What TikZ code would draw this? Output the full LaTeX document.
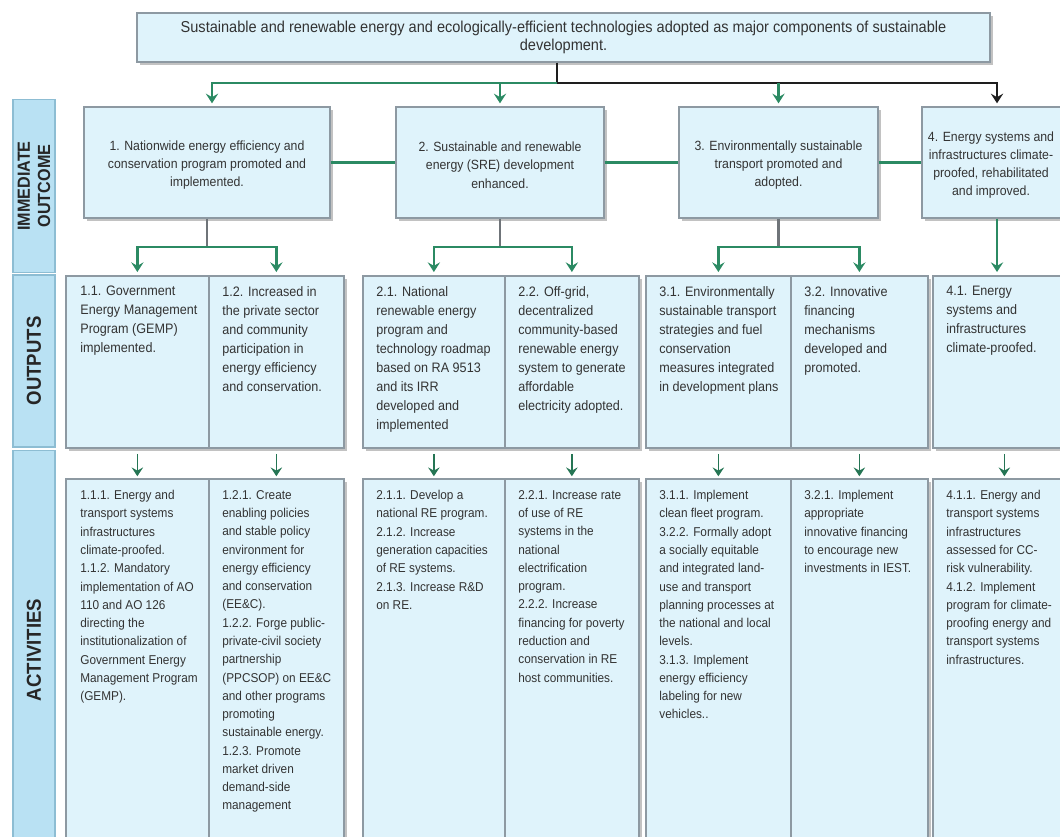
\documentclass[tikz,border=0pt]{standalone}
\usepackage{fontspec}
\newfontfamily\diagfont{Liberation Sans}[FakeStretch=0.92]
\usepackage{tikz}
\usetikzlibrary{arrows.meta,positioning,shadows}
\definecolor{cBox}{HTML}{DFF3FB}
\definecolor{cFrame}{HTML}{8D99A2}
\definecolor{cBand}{HTML}{B9E1F3}
\definecolor{cBandEdge}{HTML}{8DBDD3}
\definecolor{cFlow}{HTML}{2B8A63}
\definecolor{cStem}{HTML}{6F7479}
\definecolor{cTrunk}{HTML}{1E1E1E}
\definecolor{cInk}{HTML}{333333}
\tikzset{
  boxshadow/.style={drop shadow={shadow xshift=1.6pt, shadow yshift=-1.6pt, fill=black!40, opacity=.6}},
  goalbox/.style ={draw=cFrame, fill=cBox, line width=0.8pt, boxshadow, inner sep=0pt, align=center,
                   font=\diagfont\fontsize{9}{9.8}\selectfont},
  outcome/.style ={draw=cFrame, fill=cBox, line width=0.8pt, boxshadow, inner sep=0pt, minimum height=2.22cm},
  cell/.style    ={draw=cFrame, fill=cBox, line width=1pt, boxshadow, inner sep=0pt, anchor=north west},
  outtxt/.style  ={inner sep=0pt, align=center, font=\diagfont\fontsize{7.6}{10.4}\selectfont},
  celltxt/.style ={inner sep=0pt, align=left, font=\diagfont\fontsize{7.8}{10.8}\selectfont},
  acttxt/.style  ={inner sep=0pt, align=left, font=\diagfont\fontsize{7.3}{10.4}\selectfont},
  band/.style    ={rotate=90, fill=cBand, draw=cBandEdge, line width=0.6pt, minimum height=0.84cm,
                   inner sep=0pt, align=center, text=black!85,
                   font=\diagfont\bfseries\fontsize{11.5}{13}\selectfont},
  flow/.style ={draw=cFlow, line width=1.3pt, -{Stealth[length=5.5pt,width=7pt,inset=2pt]}, shorten >=1.7pt},
  link/.style ={draw=cFlow, line width=1.3pt},
  stem/.style ={draw=cStem, line width=1.6pt},
  trunk/.style={draw=cTrunk, line width=1.1pt},
  drop/.style ={draw=cFlow!85!black, line width=0.9pt, -{Stealth[length=5pt,width=6.5pt,inset=1.8pt]},
                shorten <=3pt, shorten >=1pt},
}

\begin{document}
\begin{tikzpicture}[x=0.02cm, y=-0.02cm, text=cInk, font=\diagfont]
  \useasboundingbox (0,0) rectangle (1060,837);
  \clip (0,0) rectangle (1060,837);

  % row labels
  \node[band, minimum width=3.46cm, font=\diagfont\bfseries\fontsize{10}{11.5}\selectfont] (b-out) at (34,186) {IMMEDIATE\\OUTCOME};
  \node[band, minimum width=3.44cm] (b-put)  at (34,361) {OUTPUTS};
  \node[band, minimum width=8.00cm] (b-act)  at (34,650) {ACTIVITIES};

  % goal
  \node[goalbox, minimum width=17.06cm, minimum height=0.98cm] (goal) at (563.5,37.5)
    {Sustainable and renewable energy and ecologically-efficient technologies adopted as major components of sustainable\\development.};

  % immediate outcomes
  \node[outcome, minimum width=4.92cm] (o1) at (207,162.5) {};
  \node[outcome, minimum width=4.16cm] (o2) at (500,162.5) {};
  \node[outcome, minimum width=3.98cm] (o3) at (778.5,162.5) {};
  \node[outcome, minimum width=3.00cm] (o4) at (997,162.5) {};
  \node[outtxt] (t-o1) at ([yshift=-0.05cm]o1) {1. Nationwide energy efficiency and\\conservation program promoted and\\implemented.};
  \node[outtxt] (t-o2) at ([yshift=-0.05cm]o2) {2. Sustainable and renewable\\energy (SRE) development\\enhanced.};
  \node[outtxt] (t-o3) at ([yshift=-0.05cm]o3) {3. Environmentally sustainable\\transport promoted and\\adopted.};
  \node[outtxt] (t-o4) at ([xshift=-0.12cm,yshift=-0.05cm]o4) {4. Energy systems and\\infrastructures climate-\\proofed, rehabilitated\\and improved.};

  % outputs
  \node[cell, minimum width=2.86cm, minimum height=3.44cm] (p11) at (65,275) {};
  \node[cell, minimum width=2.70cm, minimum height=3.44cm] (p12) at (208,275) {};
  \node[cell, minimum width=2.84cm, minimum height=3.44cm] (p21) at (362,275) {};
  \node[cell, minimum width=2.68cm, minimum height=3.44cm] (p22) at (504,275) {};
  \node[cell, minimum width=2.90cm, minimum height=3.44cm] (p31) at (645,275) {};
  \node[cell, minimum width=2.74cm, minimum height=3.44cm] (p32) at (790,275) {};
  \node[cell, minimum width=2.86cm, minimum height=3.44cm] (p41) at (932,275) {};
  \node[celltxt, below right=0.22cm and 0.3cm of p11.north west] (t-p11) {1.1. Government\\Energy Management\\Program (GEMP)\\implemented.};
  \node[celltxt, below right=0.22cm and 0.28cm of p12.north west] (t-p12) {1.2. Increased in\\the private sector\\and community\\participation in\\energy efficiency\\and conservation.};
  \node[celltxt, below right=0.22cm and 0.28cm of p21.north west] (t-p21) {2.1. National\\renewable energy\\program and\\technology roadmap\\based on RA 9513\\and its IRR\\developed and\\implemented};
  \node[celltxt, below right=0.22cm and 0.28cm of p22.north west] (t-p22) {2.2. Off-grid,\\decentralized\\community-based\\renewable energy\\system to generate\\affordable\\electricity adopted.};
  \node[celltxt, below right=0.22cm and 0.28cm of p31.north west] (t-p31) {3.1. Environmentally\\sustainable transport\\strategies and fuel\\conservation\\measures integrated\\in development plans};
  \node[celltxt, below right=0.22cm and 0.28cm of p32.north west] (t-p32) {3.2. Innovative\\financing\\mechanisms\\developed and\\promoted.};
  \node[celltxt, below right=0.22cm and 0.28cm of p41.north west] (t-p41) {4.1. Energy\\systems and\\infrastructures\\climate-proofed.};

  % activities
  \node[cell, minimum width=2.86cm, minimum height=7.5cm] (a11) at (65,478) {};
  \node[cell, minimum width=2.70cm, minimum height=7.5cm] (a12) at (208,478) {};
  \node[cell, minimum width=2.84cm, minimum height=7.5cm] (a21) at (362,478) {};
  \node[cell, minimum width=2.68cm, minimum height=7.5cm] (a22) at (504,478) {};
  \node[cell, minimum width=2.90cm, minimum height=7.5cm] (a31) at (645,478) {};
  \node[cell, minimum width=2.74cm, minimum height=7.5cm] (a32) at (790,478) {};
  \node[cell, minimum width=2.86cm, minimum height=7.5cm] (a41) at (932,478) {};
  \node[acttxt, below right=0.24cm and 0.3cm of a11.north west] (t-a11) {1.1.1. Energy and\\transport systems\\infrastructures\\climate-proofed.\\1.1.2. Mandatory\\implementation of AO\\110 and AO 126\\directing the\\institutionalization of\\Government Energy\\Management Program\\(GEMP).};
  \node[acttxt, below right=0.24cm and 0.28cm of a12.north west] (t-a12) {1.2.1. Create\\enabling policies\\and stable policy\\environment for\\energy efficiency\\and conservation\\(EE\&C).\\1.2.2. Forge public-\\private-civil society\\partnership\\(PPCSOP) on EE\&C\\and other programs\\promoting\\sustainable energy.\\1.2.3. Promote\\market driven\\demand-side\\management};
  \node[acttxt, below right=0.24cm and 0.28cm of a21.north west] (t-a21) {2.1.1. Develop a\\national RE program.\\2.1.2. Increase\\generation capacities\\of RE systems.\\2.1.3. Increase R\&D\\on RE.};
  \node[acttxt, below right=0.24cm and 0.28cm of a22.north west] (t-a22) {2.2.1. Increase rate\\of use of RE\\systems in the\\national\\electrification\\program.\\2.2.2. Increase\\financing for poverty\\reduction and\\conservation in RE\\host communities.};
  \node[acttxt, below right=0.24cm and 0.28cm of a31.north west] (t-a31) {3.1.1. Implement\\clean fleet program.\\3.2.2. Formally adopt\\a socially equitable\\and integrated land-\\use and transport\\planning processes at\\the national and local\\levels.\\3.1.3. Implement\\energy efficiency\\labeling for new\\vehicles..};
  \node[acttxt, below right=0.24cm and 0.28cm of a32.north west] (t-a32) {3.2.1. Implement\\appropriate\\innovative financing\\to encourage new\\investments in IEST.};
  \node[acttxt, below right=0.24cm and 0.28cm of a41.north west] (t-a41) {4.1.1. Energy and\\transport systems\\infrastructures\\assessed for CC-\\risk vulnerability.\\4.1.2. Implement\\program for climate-\\proofing energy and\\transport systems\\infrastructures.};

  % goal to outcomes
  \coordinate (bus) at (557,83);
  \draw[trunk] (bus |- goal.south) -- (bus);
  \draw[flow] (bus) -| ([xshift=0.1cm]o1.north);
  \draw[flow] (bus -| o2.north) -- (o2.north);
  \draw[trunk, -{Stealth[length=5.5pt,width=7pt,inset=2pt]}, shorten >=1.7pt] (bus) -| (o4.north);
  \draw[flow] (bus -| o3.north) -- (o3.north);

  % links between outcomes
  \draw[link] (o1) -- (o2);
  \draw[link] (o2) -- (o3);
  \draw[link] (o3) -- (o4);

  % outcomes to outputs
  \coordinate (j1) at (o1.south |- 0,247);
  \coordinate (j2) at (o2.south |- 0,247);
  \coordinate (j3) at (o3.south |- 0,247);
  \draw[stem] (o1) -- (j1);
  \draw[stem] (o2) -- (j2);
  \draw[stem] (o3) -- (j3);
  \draw[flow] (j1) -| (p11.north);
  \draw[flow] (j1) -| (p12.north);
  \draw[flow] (j2) -| (p21.north);
  \draw[flow] (j2) -| (p22.north);
  \draw[flow] (j3) -| (p31.north);
  \draw[flow] (j3) -| (p32.north);
  \draw[flow] (o4.south) -- (o4.south |- p41.north);

  % outputs to activities
  \foreach \c in {11,12,21,22,31,32,41}
    \draw[drop] (p\c) -- (a\c);
\end{tikzpicture}
\end{document}
